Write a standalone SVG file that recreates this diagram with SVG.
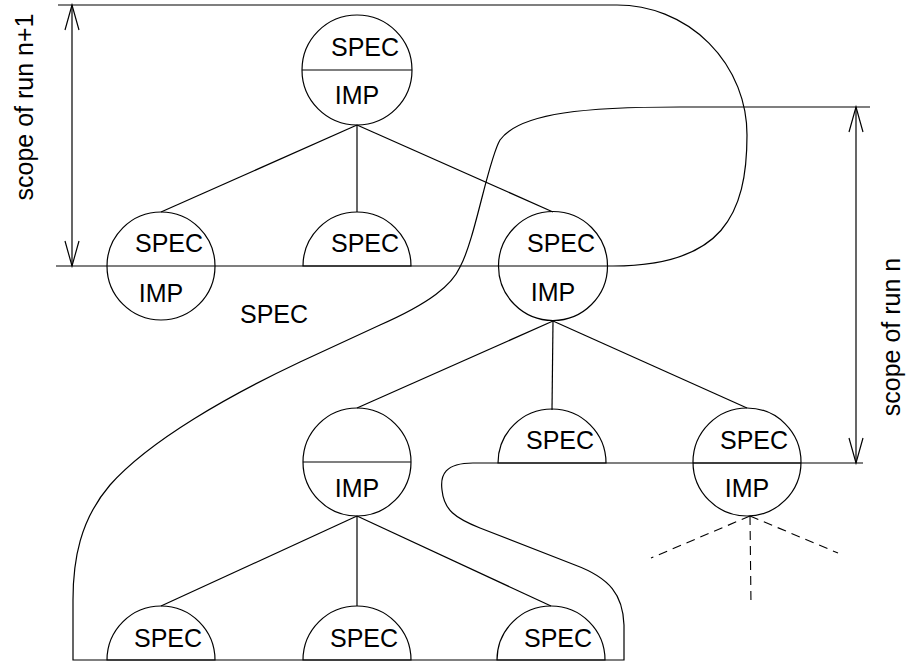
<svg xmlns="http://www.w3.org/2000/svg" width="908" height="664" viewBox="0 0 908 664">
<style>
.s{fill:none;stroke:#000;stroke-width:1.2}
.n circle,.n path{fill:none;stroke:#000;stroke-width:1.2}
.n line{stroke:#000;stroke-width:1.2}
.t{font-family:"Liberation Sans",Arial,sans-serif;font-size:25px;fill:#000}
.m{text-anchor:middle}
.d{fill:none;stroke:#000;stroke-width:1.1;stroke-dasharray:9,6}
</style>
<rect width="908" height="664" fill="#fff"/>
<g id="connectors">
<line class="s" x1="357" y1="125" x2="161" y2="212"/>
<line class="s" x1="357" y1="125" x2="357" y2="212"/>
<line class="s" x1="357" y1="125" x2="553" y2="212"/>
<line class="s" x1="553" y1="321" x2="357" y2="408"/>
<line class="s" x1="553" y1="321" x2="552" y2="410"/>
<line class="s" x1="553" y1="321" x2="747" y2="408"/>
<line class="s" x1="357" y1="516" x2="161" y2="606"/>
<line class="s" x1="357" y1="516" x2="357" y2="606"/>
<line class="s" x1="357" y1="516" x2="551" y2="606"/>
<line class="d" x1="750" y1="516" x2="651" y2="558"/>
<line class="d" x1="750" y1="516" x2="838" y2="553"/>
<line class="d" x1="750" y1="516" x2="751" y2="605"/>
</g>
<g id="scope-n1">
<path class="s" d="M58,5 H617 A130,130 0 0 1 747,135 C747,215 722,266 613,266 H56"/>
<line class="s" x1="72" y1="5" x2="72" y2="266"/>
<polyline class="s" points="65,30 72,5 79,30"/>
<polyline class="s" points="65,241 72,266 79,241"/>
<text class="t m" transform="translate(33,107) rotate(-90)">scope of run n+1</text>
</g>
<g id="scope-n">
<path class="s" d="M870,107 H680 C590,107 520,112 500,140 C488,160 475,240 460,267 C452,285 430,303 380,325 L300,362 C230,395 150,440 110,485 C80,520 73,560 73,600 V660 H624 V625 C623,595 610,578 575,565 L480,528 C455,518 444,510 442,490 C440,475 445,463 473,463 H863"/>
<line class="s" x1="856" y1="107" x2="856" y2="463"/>
<polyline class="s" points="849,132 856,107 863,132"/>
<polyline class="s" points="849,438 856,463 863,438"/>
<text class="t m" transform="translate(900,337) rotate(-90)">scope of run n</text>
</g>
<g id="root" class="n">
<circle cx="357" cy="70" r="55"/>
<line x1="302" y1="70" x2="412" y2="70"/>
<text class="t" x="331" y="56">SPEC</text>
<text class="t m" x="357" y="104">IMP</text>
</g>
<g id="child-left" class="n">
<circle cx="161" cy="266" r="54"/>
<text class="t" x="135" y="252">SPEC</text>
<text class="t m" x="161" y="302">IMP</text>
</g>
<g id="child-mid" class="n">
<path d="M303,266 A54,54 0 0 1 411,266 Z"/>
<text class="t" x="331" y="252">SPEC</text>
</g>
<g id="child-right" class="n">
<circle cx="553" cy="266" r="54.5"/>
<text class="t" x="527" y="252">SPEC</text>
<text class="t m" x="553" y="301">IMP</text>
</g>
<g id="free-spec">
<text class="t" x="240" y="323">SPEC</text>
</g>
<g id="gc-left" class="n">
<circle cx="357" cy="462" r="54"/>
<line x1="303" y1="462" x2="411" y2="462"/>
<text class="t m" x="357" y="497">IMP</text>
</g>
<g id="gc-mid" class="n">
<path d="M498,463 A54,54 0 0 1 606,463 Z"/>
<text class="t" x="526" y="449">SPEC</text>
</g>
<g id="gc-right" class="n">
<circle cx="747" cy="462" r="54"/>
<line x1="693" y1="463" x2="801" y2="463"/>
<text class="t" x="720" y="449">SPEC</text>
<text class="t m" x="747" y="497">IMP</text>
</g>
<g id="ggc-left" class="n">
<path d="M107,660 A54,54 0 0 1 215,660 Z"/>
<text class="t" x="134" y="647">SPEC</text>
</g>
<g id="ggc-mid" class="n">
<path d="M303,660 A54,54 0 0 1 411,660 Z"/>
<text class="t" x="330" y="647">SPEC</text>
</g>
<g id="ggc-right" class="n">
<path d="M497,660 A54,54 0 0 1 605,660 Z"/>
<text class="t" x="524" y="647">SPEC</text>
</g>
</svg>
